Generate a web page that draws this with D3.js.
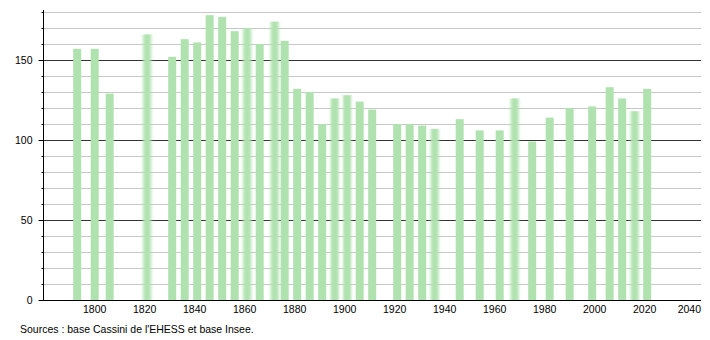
<!DOCTYPE html>
<html>
<head>
<meta charset="utf-8">
<script src="https://cdn.jsdelivr.net/npm/d3@7"></script>
<style>
  body { margin: 0; background: #fff; }
  svg { display: block; }
  text { font-family: "Liberation Sans", Arial, sans-serif; }
</style>
</head>
<body>
<svg id="chart" width="710" height="340"></svg>
<script>
// Census years and population
const years = [1793, 1800, 1806, 1821, 1831, 1836, 1841, 1846, 1851, 1856, 1861, 1866,
  1872, 1876, 1881, 1886, 1891, 1896, 1901, 1906, 1911, 1921, 1926, 1931, 1936,
  1946, 1954, 1962, 1968, 1975, 1982, 1990, 1999, 2006, 2011, 2016, 2021];
const population = [157, 157, 129, 166, 152, 163, 161, 178, 177, 168, 170, 160,
  174, 162, 132, 130, 110, 126, 128, 124, 119, 110, 110, 109, 107,
  113, 106, 106, 126, 99, 114, 120, 121, 133, 126, 118, 132];
// bars drawn fuzzy in the original
const fuzzyYears = [1821, 1861, 1872, 1936, 1968, 2016];
const softYears = [1896, 1901];

const xTicks = [1800, 1820, 1840, 1860, 1880, 1900, 1920, 1940, 1960, 1980, 2000, 2020, 2040];
const yTicks = [0, 50, 100, 150];
const gridValues = d3.range(10, 190, 10);

const svg = d3.select("#chart");
svg.selectAll("*").remove();

const x = d3.scaleLinear().domain([1800, 2040]).range([94.7, 694.7]);
const y = d3.scaleLinear().domain([0, 181.25]).range([300, 10]);
const left = 43, right = 701;

const defs = svg.append("defs");
defs.append("filter").attr("id", "fuzzy")
  .attr("x", "-100%").attr("width", "300%")
  .append("feGaussianBlur").attr("stdDeviation", "1.6 0.6");
defs.append("filter").attr("id", "soft")
  .attr("x", "-100%").attr("width", "300%")
  .append("feGaussianBlur").attr("stdDeviation", "0.8 0.3");

// grid lines
svg.append("g")
  .selectAll("line")
  .data(gridValues)
  .join("line")
  .attr("x1", left)
  .attr("x2", right)
  .attr("y1", d => Math.round(y(d)) + 0.5)
  .attr("y2", d => Math.round(y(d)) + 0.5)
  .attr("stroke", d => d % 50 === 0 ? "#333" : "#c8c8c8")
  .attr("stroke-width", 1);

// bars
const data = years.map((yr, i) => ({ year: yr, value: population[i] }));
svg.append("g")
  .selectAll("rect")
  .data(data)
  .join("rect")
  .attr("x", d => x(d.year) - 4)
  .attr("y", d => y(d.value))
  .attr("width", 8)
  .attr("height", d => y(0) - y(d.value))
  .attr("fill", "#b0e2b0")
  .attr("filter", d => fuzzyYears.includes(d.year) ? "url(#fuzzy)"
    : softYears.includes(d.year) ? "url(#soft)" : null);

// y axis
const yAxis = svg.append("g").attr("transform", `translate(${left + 0.5},0)`);
yAxis.append("line")
  .attr("x1", 0).attr("x2", 0)
  .attr("y1", 10).attr("y2", 300)
  .attr("stroke", "#000");
yAxis.selectAll("line.minor")
  .data(d3.range(0, 190, 10))
  .join("line")
  .attr("class", "minor")
  .attr("x1", d => d % 50 === 0 ? -5 : -2)
  .attr("x2", 0)
  .attr("y1", d => Math.round(y(d)) + 0.5)
  .attr("y2", d => Math.round(y(d)) + 0.5)
  .attr("stroke", "#000");
yAxis.selectAll("text")
  .data(yTicks)
  .join("text")
  .attr("x", -11)
  .attr("y", d => y(d))
  .attr("dy", "0.35em")
  .attr("text-anchor", "end")
  .attr("font-size", "10.5px")
  .attr("fill", "#000")
  .text(d => d);

// x axis
const xAxis = svg.append("g");
xAxis.append("line")
  .attr("x1", left).attr("x2", right)
  .attr("y1", 300.5).attr("y2", 300.5)
  .attr("stroke", "#000");
xAxis.selectAll("text")
  .data(xTicks)
  .join("text")
  .attr("x", d => x(d))
  .attr("y", 313)
  .attr("text-anchor", "middle")
  .attr("font-size", "10.5px")
  .attr("fill", "#000")
  .text(d => d)
  .each(function () {
    // keep the last label inside the plot edge
    const w = this.getComputedTextLength();
    const cx = +this.getAttribute("x");
    if (cx + w / 2 > right) this.setAttribute("x", right - w / 2);
  });

// source line
svg.append("text")
  .attr("x", 20)
  .attr("y", 333)
  .attr("font-size", "10.5px")
  .attr("fill", "#000")
  .text("Sources : base Cassini de l'EHESS et base Insee.");
</script>
</body>
</html>
